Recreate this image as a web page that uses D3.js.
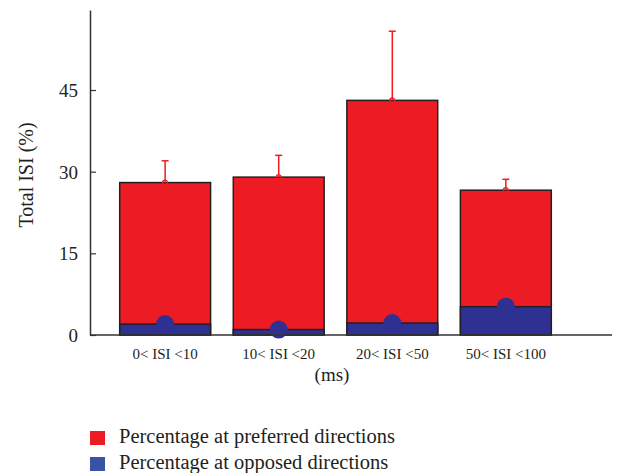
<!DOCTYPE html>
<html>
<head>
<meta charset="utf-8">
<script src="https://cdn.jsdelivr.net/npm/d3@7"></script>
<style>
  body { margin: 0; background: #fff; }
  svg text { font-family: "Liberation Serif", "Times New Roman", serif; fill: #231F20; }
</style>
</head>
<body>
<div class="chart"></div>
<script>
// data
var categories = ["0< ISI <10", "10< ISI <20", "20< ISI <50", "50< ISI <100"];
var preferred = [28.0, 29.0, 43.1, 26.6];
var preferredErr = [4.0, 4.0, 12.7, 2.0];
var opposed = [2.0, 1.0, 2.2, 5.2];
var yTicks = [0, 15, 30, 45];
var legendLabels = ["Percentage at preferred directions", "Percentage at opposed directions"];

var width = 620, height = 473;

var svg = d3.select(".chart")
  .append("svg")
    .attr("width", width)
    .attr("height", height);

var red = "#ED1C24", blue = "#2E3192";

// scales
var x = d3.scaleBand()
  .domain(categories)
  .range([97, 574])
  .padding(0.2);

var y = d3.scaleLinear()
  .domain([0, 59.7])
  .range([335, 10]);

// red bars (preferred)
svg.selectAll(".pref")
  .data(preferred)
  .enter()
  .append("rect")
    .attr("class", "pref")
    .attr("x", function(d, i) { return x(categories[i]); })
    .attr("y", function(d) { return y(d); })
    .attr("width", x.bandwidth())
    .attr("height", function(d) { return y(0) - y(d); })
    .attr("fill", red)
    .attr("stroke", "#231F20")
    .attr("stroke-width", 1.5);

// blue bars (opposed)
svg.selectAll(".opp")
  .data(opposed)
  .enter()
  .append("rect")
    .attr("class", "opp")
    .attr("x", function(d, i) { return x(categories[i]); })
    .attr("y", function(d) { return y(d); })
    .attr("width", x.bandwidth())
    .attr("height", function(d) { return y(0) - y(d); })
    .attr("fill", blue)
    .attr("stroke", "#231F20")
    .attr("stroke-width", 1.5);

// error bars
var err = svg.selectAll(".err")
  .data(preferred)
  .enter()
  .append("g")
    .attr("class", "err")
    .attr("transform", function(d, i) {
      return "translate(" + (x(categories[i]) + x.bandwidth() / 2) + ",0)";
    });

err.append("line")
  .attr("y1", function(d) { return y(d); })
  .attr("y2", function(d, i) { return y(d + preferredErr[i]); })
  .attr("stroke", red)
  .attr("stroke-width", 1.5);

err.append("line")
  .attr("x1", -3.5).attr("x2", 3.5)
  .attr("y1", function(d, i) { return y(d + preferredErr[i]); })
  .attr("y2", function(d, i) { return y(d + preferredErr[i]); })
  .attr("stroke", red)
  .attr("stroke-width", 1.5);

err.append("circle")
  .attr("cy", function(d) { return y(d); })
  .attr("r", 2.5)
  .attr("fill", "none")
  .attr("stroke", red)
  .attr("stroke-width", 1.2);

// blue markers
svg.selectAll(".dot")
  .data(opposed)
  .enter()
  .append("circle")
    .attr("class", "dot")
    .attr("cx", function(d, i) { return x(categories[i]) + x.bandwidth() / 2; })
    .attr("cy", function(d) { return y(d); })
    .attr("r", 9)
    .attr("fill", blue);

// axes
var yAxis = svg.append("g")
  .attr("transform", "translate(90,0)")
  .call(d3.axisRight(y).tickValues(yTicks).tickSize(6).tickSizeOuter(0).tickFormat(d3.format("d")));
yAxis.select(".domain").attr("stroke", "#333").attr("stroke-width", 1.5);
yAxis.selectAll(".tick line").attr("stroke", "#333").attr("stroke-width", 1.2);
yAxis.selectAll(".tick text")
  .attr("x", -12)
  .attr("dy", "0.35em")
  .attr("text-anchor", "end")
  .style("font-size", "19px")
  .style("font-family", "'Liberation Serif', serif")
  .style("fill", "#231F20");

svg.append("line")
  .attr("x1", 90).attr("x2", 612)
  .attr("y1", y(0)).attr("y2", y(0))
  .attr("stroke", "#333")
  .attr("stroke-width", 1.5);

// x labels
svg.selectAll(".xlab")
  .data(categories)
  .enter()
  .append("text")
    .attr("class", "xlab")
    .attr("x", function(d) { return x(d) + x.bandwidth() / 2; })
    .attr("y", 359)
    .attr("text-anchor", "middle")
    .style("font-size", "15px")
    .text(function(d) { return d; });

svg.append("text")
  .attr("x", 332)
  .attr("y", 381)
  .attr("text-anchor", "middle")
  .style("font-size", "19px")
  .text("(ms)");

svg.append("text")
  .attr("transform", "translate(33,175) rotate(-90)")
  .attr("text-anchor", "middle")
  .style("font-size", "20px")
  .text("Total ISI (%)");

// legend
var legendColors = [red, "#3A52A3"];
var legend = svg.selectAll(".leg")
  .data(legendLabels)
  .enter()
  .append("g")
    .attr("class", "leg")
    .attr("transform", function(d, i) { return "translate(90," + (431 + i * 26) + ")"; });

legend.append("rect")
  .attr("width", 15)
  .attr("height", 14)
  .attr("fill", function(d, i) { return legendColors[i]; });

legend.append("text")
  .attr("x", 29)
  .attr("y", 12)
  .style("font-size", "20.5px")
  .text(function(d) { return d; });
</script>
</body>
</html>
